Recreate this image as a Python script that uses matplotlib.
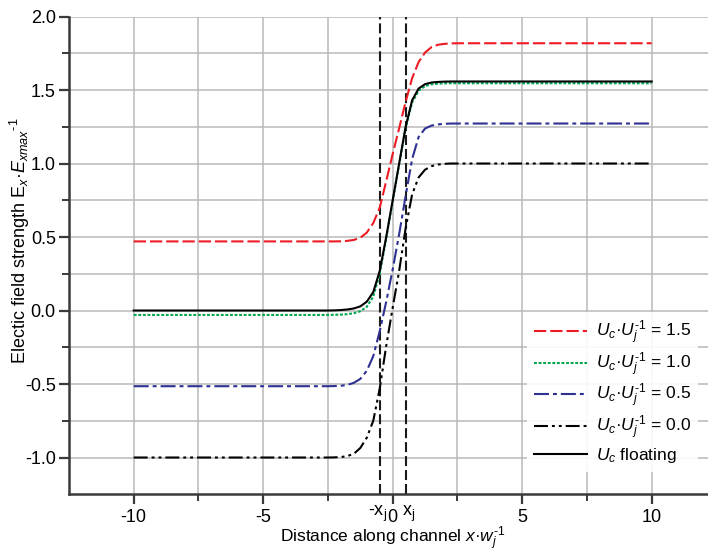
import matplotlib
matplotlib.use('Agg')
import matplotlib.pyplot as plt
from matplotlib.ticker import FixedLocator
from matplotlib.transforms import ScaledTranslation

plt.rcParams['font.family'] = ['Liberation Sans', 'DejaVu Sans']
plt.rcParams['mathtext.fontset'] = 'custom'
plt.rcParams['mathtext.rm'] = 'Liberation Sans'
plt.rcParams['mathtext.it'] = 'Liberation Sans:italic'
plt.rcParams['mathtext.bf'] = 'Liberation Sans:bold'

# ---- data ----
x = [-10, -2.5, -2.25, -2, -1.75, -1.5, -1.25, -1, -0.75, -0.5, -0.25, 0,
     0.25, 0.5, 0.75, 1, 1.25, 1.5, 1.75, 2, 2.25, 2.5, 10]
y_uc15 = [0.470, 0.470, 0.470, 0.471, 0.474, 0.480, 0.495, 0.530, 0.595, 0.700, 0.880, 1.065,
          1.240, 1.420, 1.580, 1.690, 1.755, 1.792, 1.808, 1.814, 1.817, 1.818, 1.818]
y_uc10 = [-0.030, -0.030, -0.029, -0.028, -0.025, -0.018, -0.005, 0.025, 0.095, 0.250, 0.490, 0.745,
          0.995, 1.240, 1.415, 1.495, 1.527, 1.539, 1.543, 1.545, 1.546, 1.546, 1.546]
y_uc05 = [-0.515, -0.515, -0.514, -0.512, -0.506, -0.492, -0.465, -0.410, -0.310, -0.140, 0.060, 0.280,
          0.520, 0.780, 1.030, 1.180, 1.238, 1.258, 1.266, 1.270, 1.272, 1.272, 1.272]
y_uc00 = [-1.000, -1.000, -0.999, -0.997, -0.990, -0.975, -0.935, -0.865, -0.750, -0.530, -0.240, 0.020,
          0.270, 0.560, 0.790, 0.905, 0.958, 0.982, 0.993, 0.998, 1.000, 1.000, 1.000]
y_float = [0.000, 0.000, 0.001, 0.003, 0.007, 0.014, 0.028, 0.060, 0.125, 0.270, 0.500, 0.750,
           1.000, 1.250, 1.430, 1.510, 1.540, 1.551, 1.555, 1.557, 1.558, 1.558, 1.558]
x_j = 0.5

labels = [r'$U_c$·$U_j^{\text{-1}}$ = 1.5', r'$U_c$·$U_j^{\text{-1}}$ = 1.0',
          r'$U_c$·$U_j^{\text{-1}}$ = 0.5', r'$U_c$·$U_j^{\text{-1}}$ = 0.0', r'$U_c$ floating']

xtick_pos = [-10, -5, -x_j, 0, x_j, 5, 10]
xtick_lab = ['-10', '-5', r'-x$_\mathregular{j}$', '0', r'x$_\mathregular{j}$', '5', '10']
ytick_pos = [-1.0, -0.5, 0.0, 0.5, 1.0, 1.5, 2.0]
ytick_lab = ['-1.0', '-0.5', '0.0', '0.5', '1.0', '1.5', '2.0']

# ---- figure ----
fig = plt.figure(figsize=(7.08, 5.52), dpi=100)
ax = fig.add_axes([0.0974, 0.1046, 0.9145, 0.8655])
ax.set_xlim(-12.5, 12.5)
ax.set_ylim(-1.25, 2.0)

grid_c = '#b9b9b9'
for gx in [-10, -7.5, -5, -2.5, 0, 2.5, 5, 7.5, 10]:
    ax.axvline(gx, color=grid_c, lw=1.1, zorder=0.5)
for gy in [-1.0, -0.75, -0.5, -0.25, 0, 0.25, 0.5, 0.75, 1.0, 1.25, 1.5, 1.75, 2.0]:
    ax.axhline(gy, color=grid_c, lw=1.1, zorder=0.5)

for xv in (-x_j, x_j):
    ax.axvline(xv, color='#1a1a1a', lw=1.5, dashes=(4.8, 1.9), zorder=1)

lw = 1.5
ax.plot(x, y_uc15, color='#ed1c24', lw=lw, dashes=(5.9, 1.9), label=labels[0], zorder=3)
ax.plot(x, y_uc10, color='#00a651', lw=lw, dashes=(1.4, 0.8), label=labels[1], zorder=3)
ax.plot(x, y_uc05, color='#2e3192', lw=lw, dashes=(7.2, 1.9, 1.9, 1.9), label=labels[2], zorder=3)
ax.plot(x, y_uc00, color='#000000', lw=lw, dashes=(6.7, 1.9, 1.4, 1.9, 1.4, 1.9), label=labels[3], zorder=3)
ax.plot(x, y_float, color='#000000', lw=lw, label=labels[4], zorder=4)

for s in ('top', 'right'):
    ax.spines[s].set_visible(False)
for s in ('left', 'bottom'):
    ax.spines[s].set_color('#3a3a3a')
    ax.spines[s].set_linewidth(1.8)

ax.set_xticks(xtick_pos)
ax.set_xticklabels(xtick_lab)
ax.xaxis.set_minor_locator(FixedLocator([-7.5, -2.5, 2.5, 7.5]))
ax.set_yticks(ytick_pos)
ax.set_yticklabels(ytick_lab)
ax.yaxis.set_minor_locator(FixedLocator([-0.75, -0.25, 0.25, 0.75, 1.25, 1.75]))
ax.tick_params(axis='both', which='major', length=7.5, width=1.6, color='#3a3a3a',
               labelsize=13, direction='out')
ax.tick_params(axis='both', which='minor', length=5, width=1.4, color='#3a3a3a', direction='out')
ax.tick_params(axis='x', which='major', pad=3)
ax.tick_params(axis='y', which='major', pad=2)
for i, t in enumerate(ax.xaxis.get_major_ticks()):
    if xtick_pos[i] in (-x_j, x_j):
        t.tick1line.set_visible(False)
        dx = -2.5 if xtick_pos[i] < 0 else 2.5
        t.label1.set_transform(t.label1.get_transform() +
                               ScaledTranslation(dx / 100, 5 / 100, fig.dpi_scale_trans))

ax.set_xlabel(r'Distance along channel $x$·$w_j^{\text{-1}}$', fontsize=12.5)
ax.xaxis.set_label_coords(0.5, -0.063)
ax.set_ylabel(r'Electic field strength E$_x$·$E_{xmax}$$^{\text{-1}}$', fontsize=13)
ax.yaxis.set_label_coords(-0.057, 0.53)

leg = ax.legend(loc='upper left', bbox_to_anchor=(518 / 708, 1 - 303 / 552),
                bbox_transform=fig.transFigure, fontsize=12.5, frameon=True,
                handlelength=3.1, handletextpad=0.5, labelspacing=0.2, borderpad=0.4)
leg.get_frame().set_facecolor('white')
leg.get_frame().set_edgecolor('none')
leg.get_frame().set_alpha(0.9)

fig.savefig('out.png', dpi=100)
